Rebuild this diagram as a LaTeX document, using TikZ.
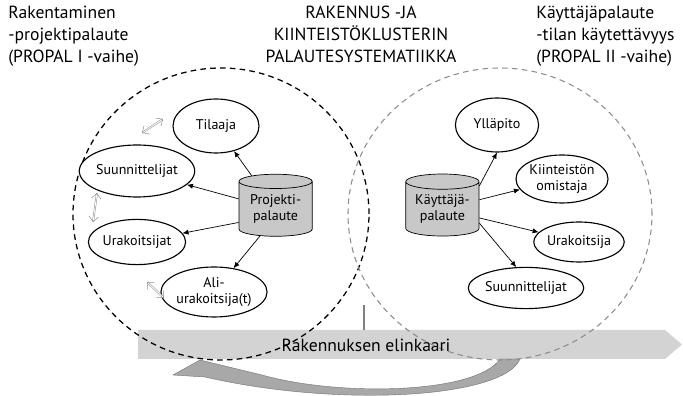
\documentclass[tikz,border=0pt]{standalone}
\usepackage{fontspec}
\setmainfont{PT Sans}
\usetikzlibrary{positioning,arrows.meta,shapes.geometric}
\definecolor{barfill}{RGB}{211,211,211}
\definecolor{cylfill}{RGB}{200,200,200}
\definecolor{loopgray}{RGB}{168,168,168}
\newcommand{\headfont}{\fontsize{12.5}{15.6}\selectfont}
\newcommand{\nodefont}{\fontsize{10}{11.2}\selectfont}
\tikzset{
  party/.style={draw,ellipse,fill=white,line width=0.8pt,align=center,font=\nodefont,inner sep=0pt},
  store/.style={draw,cylinder,shape border rotate=90,aspect=0.28,fill=cylfill,line width=0.5pt,align=center,font=\nodefont,inner sep=0pt,minimum width=1.83cm,minimum height=1.55cm},
  flow/.style={-{Latex[length=1.5mm,width=1.3mm]},line width=0.5pt},
  link/.style={{Straight Barb[length=1.3mm,width=2.4mm]}-{Straight Barb[length=1.3mm,width=2.4mm]},draw=black!45,double=white,double distance=0.6pt,line width=0.35pt},
  heading/.style={font=\headfont,inner sep=0pt},
  ring/.style={dash pattern=on 4pt off 3pt,line width=0.9pt},
}

\begin{document}
\begin{tikzpicture}
  \useasboundingbox (0,0) rectangle (17.075,9.9);
  % life cycle bar and the return arrow
  \fill[barfill] (3.45,0.925) -- (16.625,0.925) -- (17.05,1.2875) -- (16.625,1.65) -- (3.45,1.65) -- cycle;
  \filldraw[fill=loopgray,draw=black!55,line width=0.3pt] (4.325,0.525) -- (5.0,0.9) -- (6.55,0.525)
    .. controls (8.5,-0.02) and (11.9,0.05) .. (12.5,0.925) -- (13.0,0.925)
    .. controls (12.6,-0.05) and (8.5,-0.3) .. (5.125,0.475) -- cycle;
  \draw[black!50,line width=1.8pt] (9.1,2.275) -- (9.1,1.65);
  % the two feedback circles
  \draw[ring] (5.525,4.55) ellipse [x radius=3.7, y radius=3.65];
  \draw[ring,black!45,line width=0.75pt] (12.5,4.55) ellipse [x radius=3.8, y radius=3.65];
  \node[font=\headfont] (life) at (9.15,1.275) {Rakennuksen elinkaari};
  % headings
  \node[heading,anchor=north west,align=left] (lefthead) at (0.2,9.75) {Rakentaminen\\ -projektipalaute\\(PROPAL I -vaihe)};
  \node[heading,anchor=north,align=center] (midhead) at (9.025,9.75) {RAKENNUS -JA\\KIINTEIST\"OKLUSTERIN\\PALAUTESYSTEMATIIKKA};
  \node[heading,anchor=north west,align=left] (righthead) at (13.4,9.75) {K\"aytt\"aj\"apalaute\\-tilan k\"aytett\"avyys\\(PROPAL II -vaihe)};
  % project feedback
  \node[store] (proj) at (6.89,4.675) {Projekti-\\palaute};
  \node[party,minimum width=2.15cm,minimum height=1.35cm] (tilaaja) at (5.4,6.75) {Tilaaja};
  \node[party,minimum width=2.15cm,minimum height=1.3cm] (suun) at (3.425,5.625) {Suunnittelijat};
  \node[party,minimum width=2.15cm,minimum height=1.13cm] (urak) at (3.425,3.85) {Urakoitsijat};
  \node[party,minimum width=1.95cm,minimum height=1.25cm] (ali) at (5.35,2.6) {Ali-\\urakoitsija(t)};
  \draw[flow] (proj) -- (tilaaja);
  \draw[flow] (proj) -- (suun);
  \draw[flow] (proj.200) -- (urak);
  \draw[flow] (proj.240) -- (ali);
  \coordinate (l1a) at (3.55,6.575);
  \coordinate (l1b) at (4.075,6.925);
  \coordinate (l2a) at (2.425,5.075);
  \coordinate (l2b) at (2.325,4.35);
  \coordinate (l3a) at (3.675,2.85);
  \coordinate (l3b) at (4.1,2.45);
  \draw[link] (l1a) -- (l1b);
  \draw[link] (l2a) -- (l2b);
  \draw[link] (l3a) -- (l3b);
  % user feedback
  \node[store] (kayt) at (11.06,4.675) {K\"aytt\"aj\"a-\\palaute};
  \node[party,minimum width=2.08cm,minimum height=1.35cm] (yll) at (12.425,6.775) {Yll\"apito};
  \node[party,minimum width=2.12cm,minimum height=1.2cm] (kiint) at (14.05,5.425) {Kiinteist\"on\\omistaja};
  \node[party,minimum width=2.05cm,minimum height=1.0cm] (urak2) at (14.475,3.85) {Urakoitsija};
  \node[party,minimum width=2.05cm,minimum height=1.03cm] (suun2) at (13.15,2.7) {Suunnittelijat};
  \draw[flow] (kayt.32) -- (yll.south);
  \draw[flow] (kayt) -- (kiint);
  \draw[flow] (kayt) -- (urak2);
  \draw[flow] (kayt.-21) -- (suun2.115);
\end{tikzpicture}
\end{document}
